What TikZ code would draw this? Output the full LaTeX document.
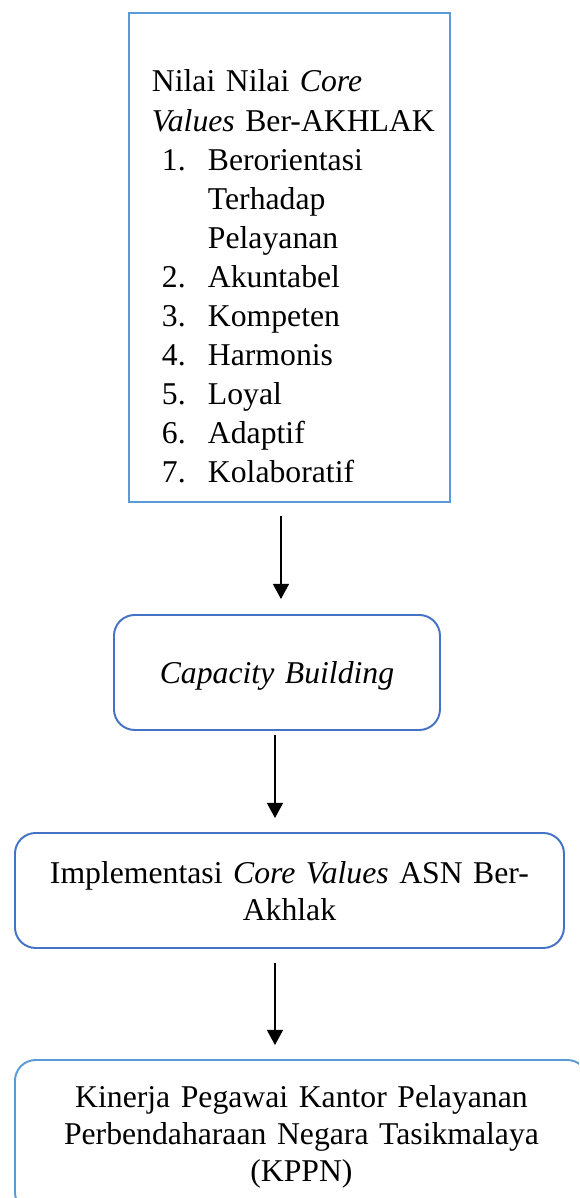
\documentclass[tikz,border=0pt]{standalone}
\usepackage{fontspec}
\setmainfont{Liberation Serif}
\usetikzlibrary{arrows.meta}
\definecolor{lightblue}{RGB}{91,155,213}
\definecolor{darkblue}{RGB}{68,114,196}
\newlength\px
\setlength\px{0.41pt}
\tikzset{
    valuebox/.style={draw=lightblue, line width=0.8pt, inner xsep=23\px, inner ysep=0pt, align=left},
    roundbox/.style={draw=#1, line width=0.8pt, rounded corners=8.5pt, inner sep=0pt, align=center},
    flow/.style={-{Triangle[length=6.2pt,width=6.6pt]}, line width=0.45pt, black},
}
\newcommand\valnum[1]{\hspace*{10\px}\makebox[46\px][l]{#1}}

\begin{document}
\begin{tikzpicture}[x=0.41pt, y=-0.41pt, font=\fontsize{13}{15}\selectfont]
    \clip (0,0) rectangle (579,1198);

    \node[valuebox, anchor=north west, text width=275\px, text height=79\px, text depth=410\px,
          font=\fontsize{13}{16}\selectfont] (values) at (128,12) {%
        \mbox{Nilai Nilai \textit{Core}}\\
        \mbox{\textit{Values} Ber-AKHLAK}\\
        \valnum{1.}Berorientasi\\
        \hspace*{56\px}Terhadap\\
        \hspace*{56\px}Pelayanan\\
        \valnum{2.}Akuntabel\\
        \valnum{3.}Kompeten\\
        \valnum{4.}Harmonis\\
        \valnum{5.}Loyal\\
        \valnum{6.}Adaptif\\
        \valnum{7.}Kolaboratif};

    \node[roundbox=darkblue, anchor=north west, text width=326\px, text height=69\px, text depth=46\px] (capacity) at (113,614) {\textit{Capacity Building}};
    \node[roundbox=darkblue, anchor=north west, text width=549\px, text height=51\px, text depth=64\px] (implement) at (14,832) {Implementasi \textit{Core Values} ASN Ber-\\Akhlak};
    \node[roundbox=lightblue, anchor=north west, text width=573\px, text height=48\px, text depth=105\px] (kinerja) at (14,1059) {Kinerja Pegawai Kantor Pelayanan\\Perbendaharaan Negara Tasikmalaya\\(KPPN)};

    \draw[flow, shorten <=13\px, shorten >=15\px] ([xshift=-8.5\px]values.south) -- ([xshift=4\px]capacity.north);
    \draw[flow, shorten <=4\px, shorten >=14\px] ([xshift=-2\px]capacity.south) -- ([xshift=-14.5\px]implement.north);
    \draw[flow, shorten <=14\px, shorten >=14\px] ([xshift=-14.5\px]implement.south) -- ([xshift=-26.5\px]kinerja.north);
\end{tikzpicture}
\end{document}
